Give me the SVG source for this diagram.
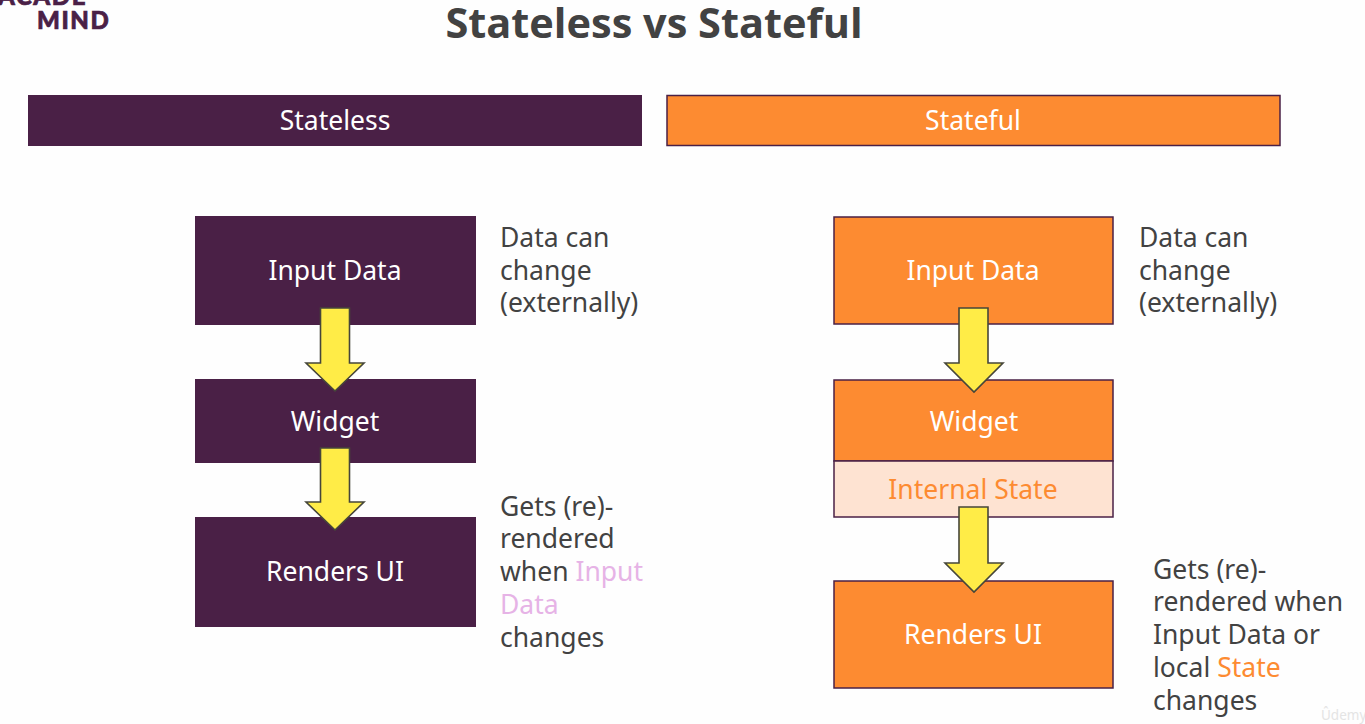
<svg xmlns="http://www.w3.org/2000/svg" width="1365" height="724" viewBox="0 0 1365 724">
<style>
text{font-family:"Noto Sans","Liberation Sans",sans-serif}
.p{fill:#4a2046}
.o{fill:#fd8b31;stroke:#4a2046;stroke-width:1.5}
.w{fill:#fff;font-size:26.5px;text-anchor:middle}
.d{fill:#424242;font-size:26.5px}
.a{fill:#ffec47;stroke:#46463a;stroke-width:1.6}
.l{fill:#4a2046;stroke:#4a2046;stroke-width:.7;font-family:"Lato","Noto Sans",sans-serif;font-weight:900;font-size:24px;letter-spacing:1.6px}
</style>
<rect width="1365" height="724" fill="#fefefe"/>
<g id="logo"><text class="l" x="-2" y="5">ACADE</text><text class="l" x="37" y="29">MIND</text></g>
<text id="title" x="654" y="38" text-anchor="middle" font-size="41.500" font-weight="700" fill="#424242" style="font-family:'Open Sans','Noto Sans',sans-serif">Stateless vs Stateful</text>
<g id="header-stateless"><rect class="p" x="28" y="95" width="614" height="51"/><text class="w" x="335" y="130">Stateless</text></g>
<g id="header-stateful"><rect class="o" x="667" y="95.500" width="613" height="50"/><text class="w" x="973" y="130">Stateful</text></g>
<g id="l-input"><rect class="p" x="195" y="216" width="281" height="109"/><text class="w" x="335" y="280">Input Data</text></g>
<g id="l-widget"><rect class="p" x="195" y="379" width="281" height="84"/><text class="w" x="335" y="431">Widget</text></g>
<g id="l-render"><rect class="p" x="195" y="517" width="281" height="110"/><text class="w" x="335" y="581">Renders UI</text></g>
<g id="r-input"><rect class="o" x="834" y="217" width="279" height="107"/><text class="w" x="973" y="280">Input Data</text></g>
<g id="r-widget"><rect class="o" x="834" y="380" width="279" height="81"/><text class="w" x="974" y="431">Widget</text></g>
<g id="r-state"><rect x="834" y="461" width="279" height="56" fill="#fee3d2" stroke="#4a2046" stroke-width="1.500"/><text x="973" y="499" font-size="26.500" text-anchor="middle" fill="#fd8b31">Internal State</text></g>
<g id="r-render"><rect class="o" x="834" y="581" width="279" height="107"/><text class="w" x="973" y="644">Renders UI</text></g>
<g id="connectors">
<path class="a" d="M320.500 308H349.500V363H364L335 391L306 363H320.500Z"/>
<path class="a" d="M320.500 448H349.500V502H364L335 530L306 502H320.500Z"/>
<path class="a" d="M959 308H988V363H1003L974 392L945 363H959Z"/>
<path class="a" d="M959 507H988V563H1003L974 592L945 563H959Z"/>
</g>
<g id="note-l1"><text class="d" x="500" y="247">Data can</text><text class="d" x="500" y="280">change</text><text class="d" x="500" y="312">(externally)</text></g>
<g id="note-r1"><text class="d" x="1139" y="247">Data can</text><text class="d" x="1139" y="280">change</text><text class="d" x="1139" y="312">(externally)</text></g>
<g id="note-l2"><text class="d" x="500" y="516">Gets (re)-</text><text class="d" x="500" y="548">rendered</text><text class="d" x="500" y="581">when <tspan fill="#e6b3e6">Input</tspan></text><text class="d" x="500" y="614" style="fill:#e6b3e6">Data</text><text class="d" x="500" y="647">changes</text></g>
<g id="note-r2"><text class="d" x="1153" y="579">Gets (re)-</text><text class="d" x="1153" y="611">rendered when</text><text class="d" x="1153" y="644">Input Data or</text><text class="d" x="1153" y="677">local <tspan fill="#fd8b31">State</tspan></text><text class="d" x="1153" y="710">changes</text></g>
<text id="watermark" x="1321" y="720" font-size="13.500" fill="#e4e4e4">Ûdemy</text>
</svg>
